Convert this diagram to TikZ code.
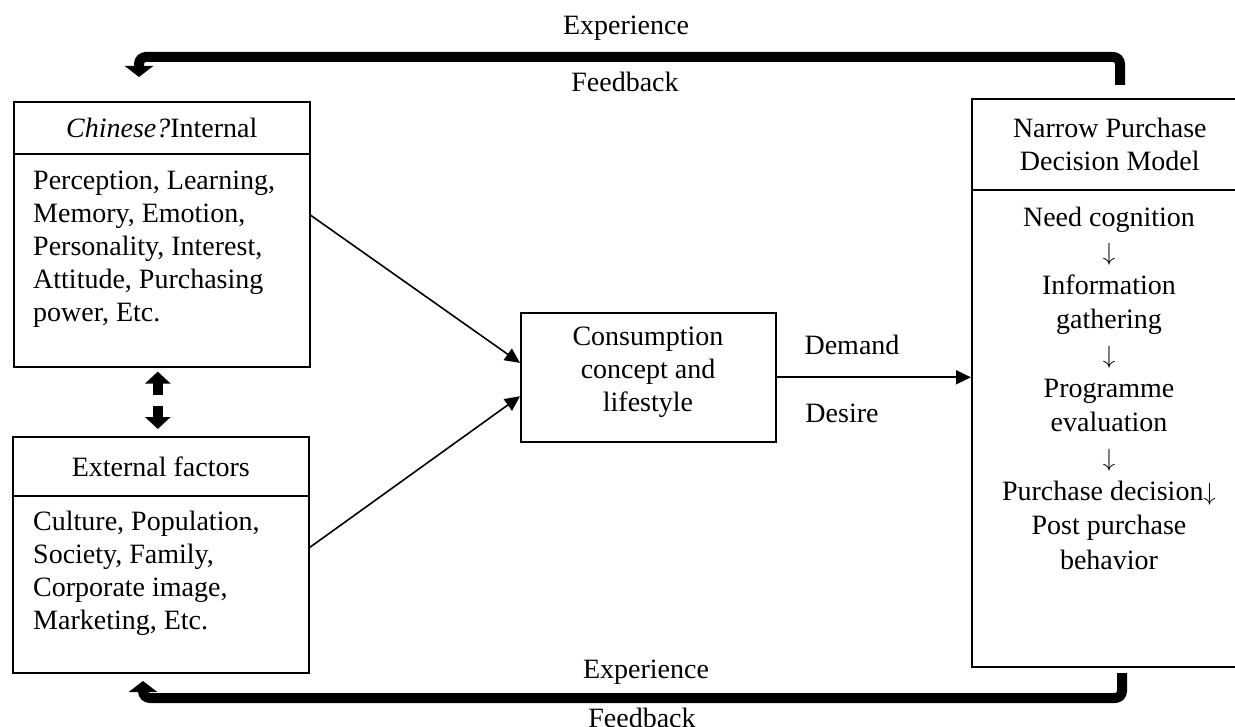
\documentclass[tikz,border=0pt]{standalone}
\usepackage{fontspec}
\setmainfont{Liberation Serif}
\usetikzlibrary{arrows.meta,calc}
\newcommand{\stepdown}{\(\downarrow\)}
\begin{document}
\begin{tikzpicture}[x=1pt,y=-1pt,
  every node/.style={font=\fontsize{28}{33}\selectfont, inner sep=0pt},
  box/.style={draw, line width=1.6pt, anchor=north west, align=center},
  conn/.style={line width=1.6pt, -{Triangle[width=14pt,length=15pt]}},
  fb/.style={line width=10pt, rounded corners=7pt, -{Triangle[width=28pt,length=11pt]}},
  blockarrow/.style={line width=10pt, -{Triangle[width=25pt,length=12pt]}}]
\useasboundingbox (0,0) rectangle (1235,727);

% left column: internal and external factors
\node[box, minimum width=296pt, minimum height=52pt] (inthead) at (13,101) {\textit{Chinese?}Internal};
\node[box, minimum width=296pt, minimum height=213pt] (intbody) at (13,153) {};
\node[anchor=west, align=left] (inttext) at (33,249)
  {Perception, Learning,\\Memory, Emotion,\\Personality, Interest,\\Attitude, Purchasing\\power, Etc.};

\node[box, minimum width=296pt, minimum height=59pt] (exthead) at (12,436) {External factors};
\node[box, minimum width=296pt, minimum height=177pt] (extbody) at (12,495) {};
\node[anchor=west, align=left] (exttext) at (33,573)
  {Culture, Population,\\Society, Family,\\Corporate image,\\Marketing, Etc.};

% centre box
\node[box, minimum width=255pt, minimum height=129pt] (cc) at (520,312) {};
\node[align=center] (cctext) at (648,372) {Consumption\\concept and\\lifestyle};

% right column: purchase decision model
\node[box, minimum width=276pt, minimum height=91pt] (rhead) at (971,98) {Narrow Purchase\\Decision Model};
\node[box, minimum width=276pt, minimum height=477pt] (rbody) at (971,189) {};
\node[align=center, font=\fontsize{28}{34.3}\selectfont] (rtext) at (1109,388)
  {Need cognition\\\stepdown\\Information\\gathering\\\stepdown\\Programme\\evaluation\\\stepdown\\Purchase decision\stepdown\\Post purchase\\behavior};

% influences
\draw[conn] ($(intbody.north east)!0.29!(intbody.south east)$) -- ($(cc.north west)!0.39!(cc.south west)$);
\draw[conn] ($(extbody.north east)!0.294!(extbody.south east)$) -- ($(cc.north west)!0.645!(cc.south west)$);
\draw[conn] (cc.east) -- (cc.east -| rbody.west);
\node (demand) at (852,345) {Demand};
\node (desire) at (842,413) {Desire};

% mutual influence between internal and external factors
\draw[blockarrow] ($(intbody.south)+(-4,27)$) -- ($(intbody.south)+(-4,4)$);
\draw[blockarrow] ($(exthead.north)+(-3,-30)$) -- ($(exthead.north)+(-3,-7)$);

% feedback loops
\coordinate (fbtopstart) at (1120,85);
\coordinate (fbtopend) at (139,77);
\draw[fb] (fbtopstart) -- (1120,57) -- (139,57) -- (fbtopend);
\node (exptop) at (626,28) {Experience};
\node (fbktop) at (625,82) {Feedback};

\coordinate (fbbotstart) at (1122,673);
\coordinate (fbbotend) at (143,681);
\draw[fb] (fbbotstart) -- (1122,698) -- (143,698) -- (fbbotend);
\node (expbot) at (646,672) {Experience};
\node (fbkbot) at (642,718) {Feedback};
\end{tikzpicture}
\end{document}
